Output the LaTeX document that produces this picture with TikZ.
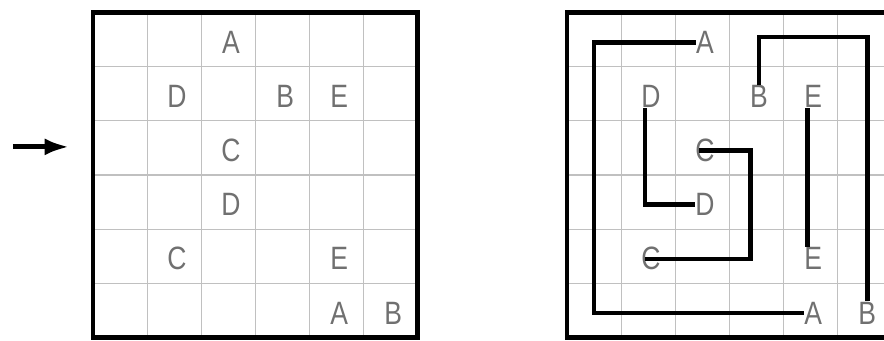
\documentclass[tikz,border=0pt]{standalone}
\usepackage{fontspec}
\usepackage{tikz}
\usetikzlibrary{arrows.meta}
\newfontfamily\letterfont[FakeStretch=0.82]{Liberation Sans}
\definecolor{lettergray}{RGB}{112,112,112}
\definecolor{gridgray}{RGB}{192,192,192}
\tikzset{letter/.style = {text=lettergray, inner sep=0pt,
                          font=\letterfont\fontsize{17}{20}\selectfont}}
\tikzset{route/.style = {black, line width=2.4pt}}
\tikzset{frame/.style = {black, line width=2.4pt}}
\tikzset{thin grid/.style = {gridgray, line width=0.6pt}}

\begin{document}
\begin{tikzpicture}
    \clip (-1.72,-0.055) rectangle (14.62,6.235);
    % the two boards
    \foreach \gx/\pre in {0/l, 8.76/r} {
        \draw[thin grid, xshift=\gx cm] (0,0) grid (6,6);
        \draw[frame, xshift=\gx cm] (0,0) rectangle (6,6);
        \foreach \col/\row/\txt/\nm in {3/1/A/A1, 2/2/D/D1, 4/2/B/B1, 5/2/E/E1,
                                        3/3/C/C1, 3/4/D/D2, 2/5/C/C2, 5/5/E/E2,
                                        5/6/A/A2, 6/6/B/B2}
            \node[letter] (\pre\nm) at (\gx+\col-0.45, 6.45-\row) {\txt};
    }
    \coordinate (arrowtail) at (-1.48,3.52);
    \coordinate (arrowtip) at (-0.44,3.52);
    \draw[line width=2.6pt, -{Latex[length=13pt,width=9pt]}] (arrowtail) -- (arrowtip);

    % turning points of the solution
    \coordinate (tA) at (8.76+0.5,0.5);
    \coordinate (tB) at (8.76+5.5,5.55);
    \coordinate (tC) at (8.76+3.5,1.5);

    \draw[route] (rA1.west) -| (rA2.west -| tA) -- (rA2.west);
    \draw[route] (rB1.north) |- (rB2.north |- tB) -- (rB2.north);
    \draw[route] ([xshift=-3pt]rD1.south) |- (rD2.west);
    \draw[route] ([xshift=-3pt]rC1.center) -| ([xshift=-3pt]rC2.center -| tC)
                 -- ([xshift=-3pt]rC2.center);
    \draw[route] ([xshift=-3pt]rE1.south) -- ([xshift=-3pt]rE2.north);
\end{tikzpicture}
\end{document}
